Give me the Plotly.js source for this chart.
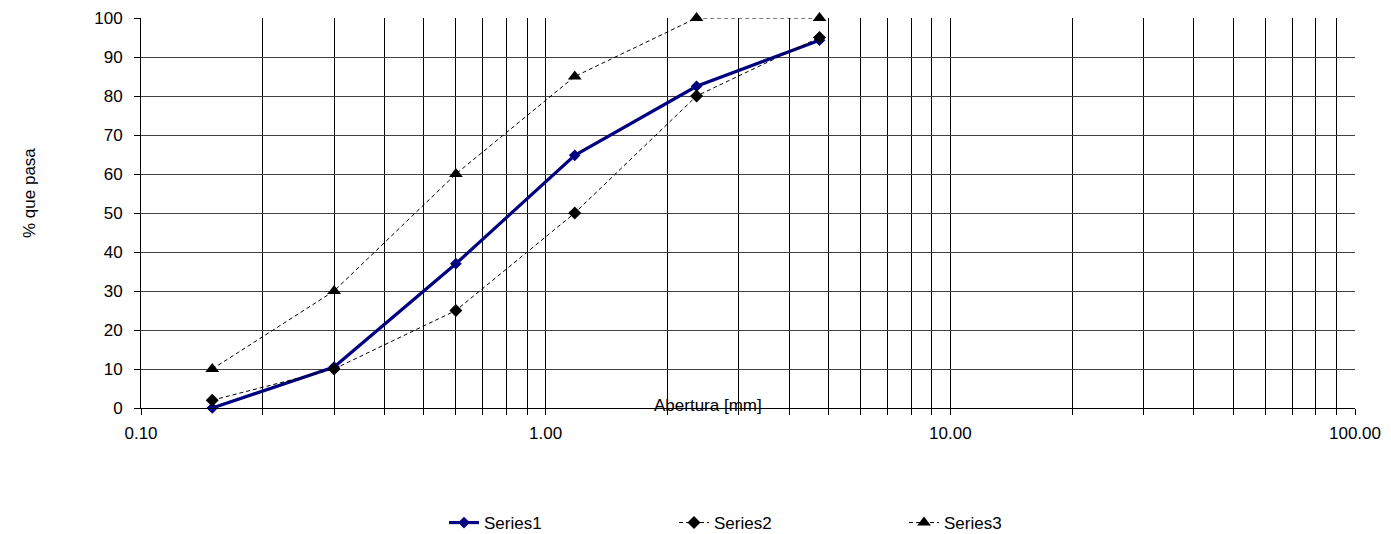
<!DOCTYPE html>
<html><head><meta charset="utf-8">
<script src="https://cdn.plot.ly/plotly-3.0.1.min.js"></script>
<style>body{margin:0;background:#fff}#c{width:1391px;height:534px}</style>
</head><body><div id="c"></div>
<script>
const sieve = [0.15, 0.3, 0.6, 1.18, 2.36, 4.75];
const series1 = [0, 10.5, 37, 64.8, 82.5, 94.3];
const series2 = [2, 10, 25, 50, 80, 95];
const series3 = [10, 30, 60, 85, 100, 100];
const seriesNames = ['Series1', 'Series2', 'Series3'];
const yTicks = [0,10,20,30,40,50,60,70,80,90,100];
const decadeLabels = {0.1:'0.10', 1:'1.00', 10:'10.00', 100:'100.00'};

const xtv = [], xtt = [];
[0.1, 1, 10].forEach(d => { for (let m = 1; m <= 9; m++) { const v = +(d*m).toPrecision(3); xtv.push(v); xtt.push(decadeLabels[v] || ''); } });
xtv.push(100); xtt.push('100.00');

const F = 'Liberation Sans, Arial, sans-serif';
const FS = 17;
const traces = [
  {x: sieve, y: series1, name: seriesNames[0], mode: 'lines+markers', cliponaxis: false,
   line: {color: '#000080', width: 3.2}, marker: {symbol: 'diamond', size: 9, color: '#000080'}},
  {x: sieve, y: series2, name: seriesNames[1], mode: 'lines+markers', cliponaxis: false,
   line: {color: '#000000', width: 1, dash: '4px,3px'}, marker: {symbol: 'diamond', size: 10, color: '#000000'}},
  {x: sieve, y: series3, name: seriesNames[2], mode: 'lines+markers', cliponaxis: false,
   line: {color: '#000000', width: 1, dash: '4px,3px'}, marker: {symbol: 'triangle-up', size: 12, color: '#000000'}}
];
const layout = {
  width: 1391, height: 534,
  margin: {l: 141, r: 36, t: 18, b: 126, autoexpand: false},
  paper_bgcolor: '#fff', plot_bgcolor: '#fff',
  font: {family: F, size: FS, color: '#000'},
  showlegend: true,
  legend: {orientation: 'h', x: (444-141)/1214, xanchor: 'left', y: (408-523)/390, yanchor: 'middle',
           entrywidth: 185, font: {size: FS, family: F}},
  xaxis: {type: 'log', range: [-1, 2], tickmode: 'array', tickvals: xtv, ticktext: xtt, automargin: false,
          showgrid: true, gridcolor: '#000', gridwidth: 1, ticks: 'outside', ticklen: 6,
          tickcolor: '#000', showline: true, linecolor: '#000', linewidth: 1, zeroline: false,
          ticklabelstandoff: 4, tickfont: {size: FS}},
  yaxis: {range: [0, 100], tickvals: yTicks, showgrid: true, gridcolor: '#404040', gridwidth: 1, automargin: false,
          ticks: 'outside', ticklen: 6, tickcolor: '#000', showline: true, linecolor: '#000',
          linewidth: 1, zeroline: false, tickfont: {size: FS}, ticklabelstandoff: 8},
  annotations: [
    {text: 'Abertura [mm]', xref: 'paper', yref: 'paper', x: (708-141)/1214, y: (408-405)/390,
     xanchor: 'center', yanchor: 'middle', showarrow: false, font: {size: FS, family: F}},
    {text: '% que pasa', xref: 'paper', yref: 'paper', x: (30-141)/1214, y: (408-193)/390,
     xanchor: 'center', yanchor: 'middle', textangle: -90, showarrow: false, font: {size: FS, family: F}}
  ]
};
Plotly.newPlot('c', traces, layout, {displayModeBar: false, staticPlot: true});
</script></body></html>
